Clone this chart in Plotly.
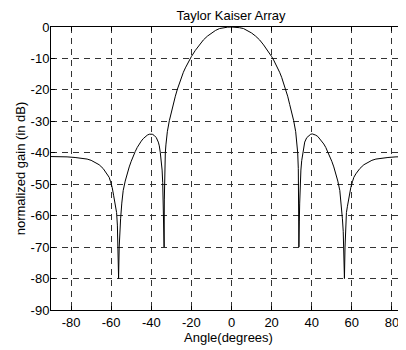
import plotly.graph_objects as go

# Left half of the (symmetric) pattern
angle_half = [-90, -86, -82, -78, -75, -72, -70, -68, -66, -64, -62, -61, -60.3, -59.5,
              -58.8, -58.2, -57.8, -57.3, -56.9, -56.6, -56.3, -56.0, -55.7, -55.3, -54.7,
              -54, -53, -52, -51, -50, -49, -48, -47, -46, -45, -44, -43, -42, -41,
              -40.3, -39.5, -38.5, -37.5, -36.5, -36, -35.5, -35, -34.6, -34.3, -34.0,
              -33.8, -33.6, -33.5, -33.3, -33.0, -32.7, -32, -31, -30, -29, -28, -27,
              -26, -25, -24, -23, -22, -21, -20, -18, -16, -14, -12, -10, -8, -6, -4, -2, 0]
gain_half = [-41.2, -41.2, -41.3, -41.5, -41.7, -42.0, -42.4, -43.0, -43.8, -45.0, -46.7, -47.8, -49.2, -51.0,
             -53.5, -55.5, -57.0, -59.0, -63.0, -70.0, -80.0, -70.0, -65.0, -61.0, -56.0,
             -52.0, -49.0, -46.5, -44.5, -42.7, -41.0, -39.6, -38.3, -37.2, -36.3, -35.5, -34.8, -34.4, -34.1,
             -34.0, -34.1, -34.5, -35.2, -36.6, -37.8, -40.0, -42.5, -45.5, -49.5, -56.0,
             -62.0, -70.0, -55.0, -45.0, -40.0, -37.5, -33.3, -29.8, -27.0, -24.6, -22.0, -19.8,
             -17.8, -16.0, -14.4, -13.0, -11.7, -10.5, -9.4, -7.4, -5.7, -4.1, -2.9, -1.9, -1.1, -0.5, -0.22, -0.05, 0.0]

angles = angle_half + [-a for a in reversed(angle_half[:-1])]
gains = gain_half + list(reversed(gain_half[:-1]))

x_ticks = [-80, -60, -40, -20, 0, 20, 40, 60, 80]
y_ticks = [0, -10, -20, -30, -40, -50, -60, -70, -80, -90]

font = "Liberation Sans, Arial, sans-serif"

# the page body has an 8px margin, so the figure is sized/placed to compensate
W, H = 398, 342

fig = go.Figure()
fig.add_trace(go.Scatter(x=angles, y=gains, mode="lines",
                         line=dict(color="black", width=1), hoverinfo="skip"))

fig.update_layout(
    width=W, height=H,
    margin=dict(l=43, r=0, t=19, b=40),
    paper_bgcolor="white", plot_bgcolor="white",
    showlegend=False,
    font=dict(family=font, size=13, color="black"),
    title=dict(text="Taylor Kaiser Array", x=223 / W, xref="container", xanchor="center",
               y=1 - 7 / H, yref="container", yanchor="middle",
               font=dict(family=font, size=13, color="black")),
)
fig.update_xaxes(
    range=[-90, 87], tickvals=x_ticks, ticktext=[str(v) for v in x_ticks],
    showline=True, linecolor="black", linewidth=1, mirror="ticks",
    ticks="inside", ticklen=4, tickcolor="black",
    showgrid=True, gridcolor="#333", gridwidth=1, griddash="6px,5px",
    zeroline=False,
    title=dict(text="Angle(degrees)", standoff=4, font=dict(family=font, size=13)),
    tickfont=dict(family=font, size=13),
)
fig.update_yaxes(
    range=[-90, 0], tickvals=y_ticks, ticktext=[str(v) for v in y_ticks],
    showline=True, linecolor="black", linewidth=1, mirror=False,
    ticks="inside", ticklen=4, tickcolor="black",
    ticklabelstandoff=-2,
    showgrid=True, gridcolor="#333", gridwidth=1, griddash="6px,5px",
    zeroline=False,
    title=dict(text="normalized gain (in dB)", standoff=2, font=dict(family=font, size=13)),
    tickfont=dict(family=font, size=13),
)

fig.write_html("out.html")
